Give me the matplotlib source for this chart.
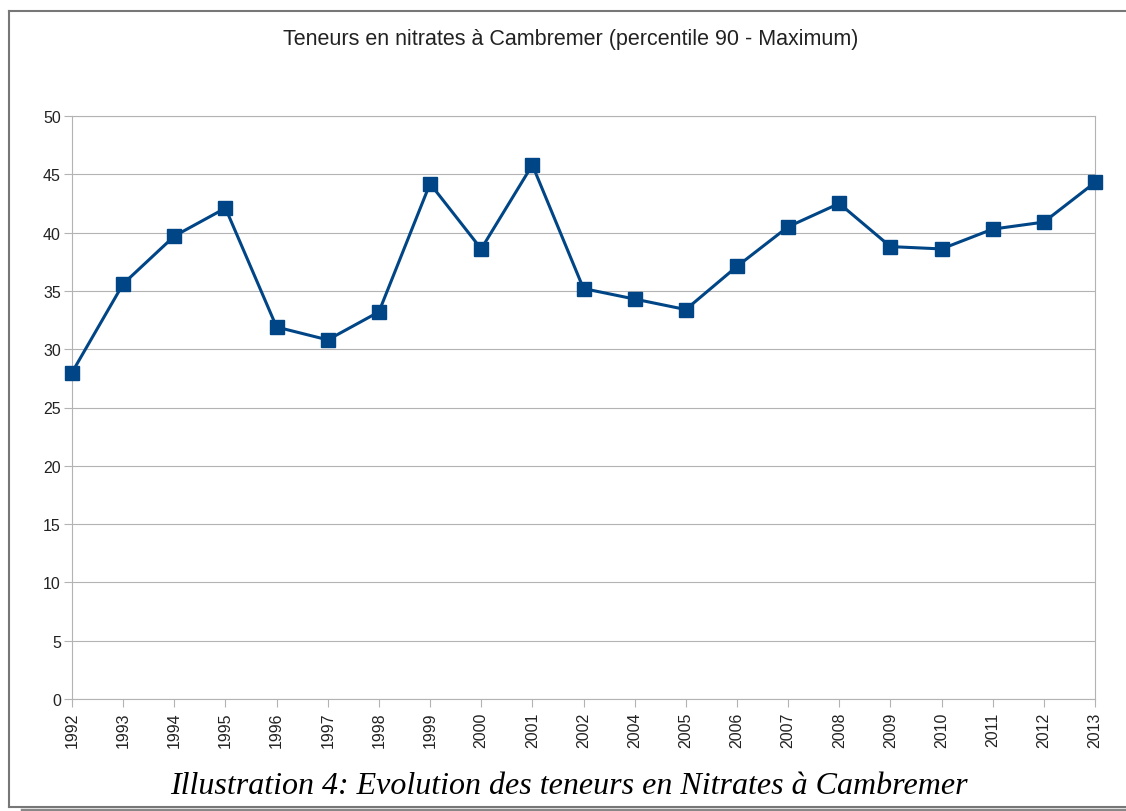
import matplotlib
matplotlib.use('Agg')
import matplotlib.pyplot as plt
from matplotlib.lines import Line2D

# data
years = ['1992', '1993', '1994', '1995', '1996', '1997', '1998', '1999', '2000', '2001', '2002',
         '2004', '2005', '2006', '2007', '2008', '2009', '2010', '2011', '2012', '2013']
nitrates = [28.0, 35.6, 39.7, 42.1, 31.9, 30.8, 33.2, 44.2, 38.6, 45.8, 35.2,
            34.3, 33.4, 37.1, 40.5, 42.5, 38.8, 38.6, 40.3, 40.9, 44.3]
y_ticks = [0, 5, 10, 15, 20, 25, 30, 35, 40, 45, 50]

title = 'Teneurs en nitrates à Cambremer (percentile 90 - Maximum)'
caption = 'Illustration 4: Evolution des teneurs en Nitrates à Cambremer'

W, H = 1126, 812
plt.rcParams['font.family'] = ['Liberation Sans', 'DejaVu Sans']
fig = plt.figure(figsize=(W / 100, H / 100), dpi=100)

ax = fig.add_axes([72 / W, 1 - 700 / H, (1095 - 72) / W, (700 - 117) / H])
x = list(range(len(years)))
ax.plot(x, nitrates, color='#004586', lw=2.2, marker='s', markersize=10,
        clip_on=False, zorder=3)

ax.set_xlim(0, len(years) - 1)
ax.set_ylim(0, 50)
ax.set_yticks(y_ticks)
ax.set_xticks(x)
ax.set_xticklabels(years, rotation=90, fontsize=11.5)
ax.tick_params(axis='y', labelsize=11.5, length=6, color='#b3b3b3', pad=2, labelcolor='#222222')
ax.tick_params(axis='x', length=6, color='#b3b3b3', pad=3, labelcolor='#222222')
ax.grid(axis='y', color='#b3b3b3', lw=0.8)
ax.set_axisbelow(True)
for s in ax.spines.values():
    s.set_color('#b3b3b3')
    s.set_linewidth(0.8)

fig.text(571 / W, 1 - 40 / H, title, ha='center', va='center', fontsize=15.5, color='#222222')
fig.text(569 / W, 1 - 787 / H, caption, ha='center', va='center', fontsize=23,
         family='Liberation Serif', style='italic')

# outer frame with shadow
def px_line(x0, y0, x1, y1, lw, color):
    fig.add_artist(Line2D([x0 / W, x1 / W], [1 - y0 / H, 1 - y1 / H], lw=lw, color=color,
                          transform=fig.transFigure))

px_line(9, 11.5, W, 11.5, 1.5, '#777777')
px_line(9, 11.5, 9, 808, 1.5, '#777777')
px_line(9, 808, W, 808, 1.5, '#777777')
px_line(22, 810.5, W, 810.5, 2.5, '#888888')

fig.savefig('out.png', dpi=100)
